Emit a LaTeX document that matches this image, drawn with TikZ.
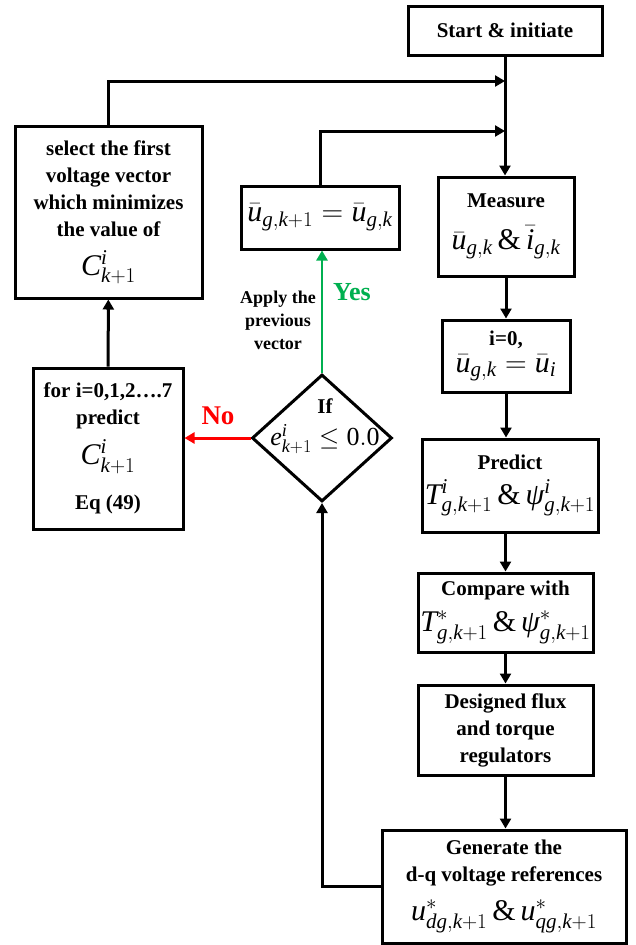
\RequirePackage{fix-cm}
\documentclass[tikz,border=0pt]{standalone}
\usepackage{fontspec}
\setmainfont[NFSSFamily=libser]{Liberation Serif}
\usetikzlibrary{shapes.geometric,arrows.meta,positioning}
\definecolor{yesgreen}{RGB}{0,176,80}
\newcommand{\eqsize}{\fontsize{30}{34}\selectfont}
% math letters in the serif italic
\DeclareSymbolFont{tletters}{TU}{libser}{m}{it}
\AtBeginDocument{%
  \Umathcode`u="0 \symtletters `u
  \Umathcode`i="0 \symtletters `i
  \Umathcode`g="0 \symtletters `g
  \Umathcode`k="0 \symtletters `k
  \Umathcode`T="0 \symtletters `T
  \Umathcode`C="0 \symtletters `C
  \Umathcode`e="0 \symtletters `e
  \Umathcode`d="0 \symtletters `d
  \Umathcode`q="0 \symtletters `q
  \Umathchardef\tpsi="0 \symtletters "03C8 }

\begin{document}
\begin{tikzpicture}[x=1pt, y=-1pt,
    block/.style={rectangle, draw, line width=3pt, align=center, inner sep=0pt, font=\bfseries\fontsize{21}{27}\selectfont},
    arrow/.style={-{Triangle[length=10pt,width=11pt]}, line width=3pt}
]
\useasboundingbox (0,0) rectangle (635,945);

% right column
\node[block, minimum width=194pt, minimum height=49pt] (st) at (505,30.5) {Start \& initiate};
\node[block, minimum width=136pt, minimum height=99pt] (ms) at (506,226.5) {Measure\\[15pt] {\eqsize $\bar{u}_{g,k}\,\&\,\bar{i}_{g,k}$}};
\node[block, minimum width=128pt, minimum height=72pt] (iz) at (506,356) {i=0,\\ {\eqsize $\bar{u}_{g,k}=\bar{u}_{i}$}};
\node[block, minimum width=176pt, minimum height=93pt] (pr) at (510,485.5) {Predict\\[8pt] {\eqsize $T^{i}_{g,k+1}\,\&\,\tpsi^{i}_{g,k+1}$}};
\node[block, minimum width=175pt, minimum height=79pt] (cp) at (505.5,612.5) {Compare with\\[9pt] {\eqsize $T^{*}_{g,k+1}\,\&\,\tpsi^{*}_{g,k+1}$}};
\node[block, minimum width=175pt, minimum height=90pt] (dr) at (505.5,730) {Designed flux\\and torque\\regulators};
\node[block, minimum width=244pt, minimum height=113pt] (gn) at (504,886.5) {Generate the\\d-q voltage references\\[12pt] {\eqsize $u^{*}_{dg,k+1}\,\&\,u^{*}_{qg,k+1}$}};

% middle and left
\node[block, minimum width=158pt, minimum height=63pt] (hold) at (320,217.5) {\eqsize $\bar{u}_{g,k+1}=\bar{u}_{g,k}$};
\node[diamond, draw, line width=3pt, minimum width=140pt, minimum height=127pt, inner sep=0pt] (if) at (322,438) {};
\node[align=center, font=\bfseries\fontsize{21}{27}\selectfont] (ift) at (325,426) {If\\[5pt] {\fontsize{26}{30}\selectfont $e^{i}_{k+1}\le \mathrm{0.0}$}};
\node[block, minimum width=187pt, minimum height=172pt] (sel) at (108.5,212) {select the first\\voltage vector\\which minimizes\\the value of\\[12pt] {\eqsize $C^{i}_{k+1}$}};
\node[block, minimum width=150pt, minimum height=161pt] (pc) at (108,448.5) {for i=0,1,2….7\\predict\\[10pt] {\eqsize $C^{i}_{k+1}$}\\[18pt]Eq (49)};

\node[font=\bfseries\fontsize{27}{30}\selectfont, text=red] (no) at (218,416) {No};
\node[font=\bfseries\fontsize{26}{30}\selectfont, text=yesgreen] (yes) at (352,292) {Yes};
\node[font=\bfseries\fontsize{18}{23}\selectfont, align=center] (ap) at (278,320) {Apply the\\previous\\vector};

\coordinate (j1) at (505,81);
\coordinate (j2) at (505,131);

\draw[arrow] (st.south) -- (st.south |- ms.north);
\draw[arrow] (sel.north) |- (j1);
\draw[arrow] (hold.north) |- (j2);
\draw[arrow] (ms) -- (iz);
\draw[arrow] (iz) -- (iz |- pr.north);
\draw[arrow] (cp |- pr.south) -- (cp.north);
\draw[arrow] (cp) -- (dr);
\draw[arrow] (dr) -- (dr |- gn.north);
\draw[arrow] (gn.west) -| (if.south);
\draw[arrow, red] (if.west) -- (if.west -| pc.east);
\draw[arrow, yesgreen, line width=2.4pt] (if.north) -- (if.north |- hold.south);
\draw[arrow] (pc) -- (sel);
\end{tikzpicture}
\end{document}
